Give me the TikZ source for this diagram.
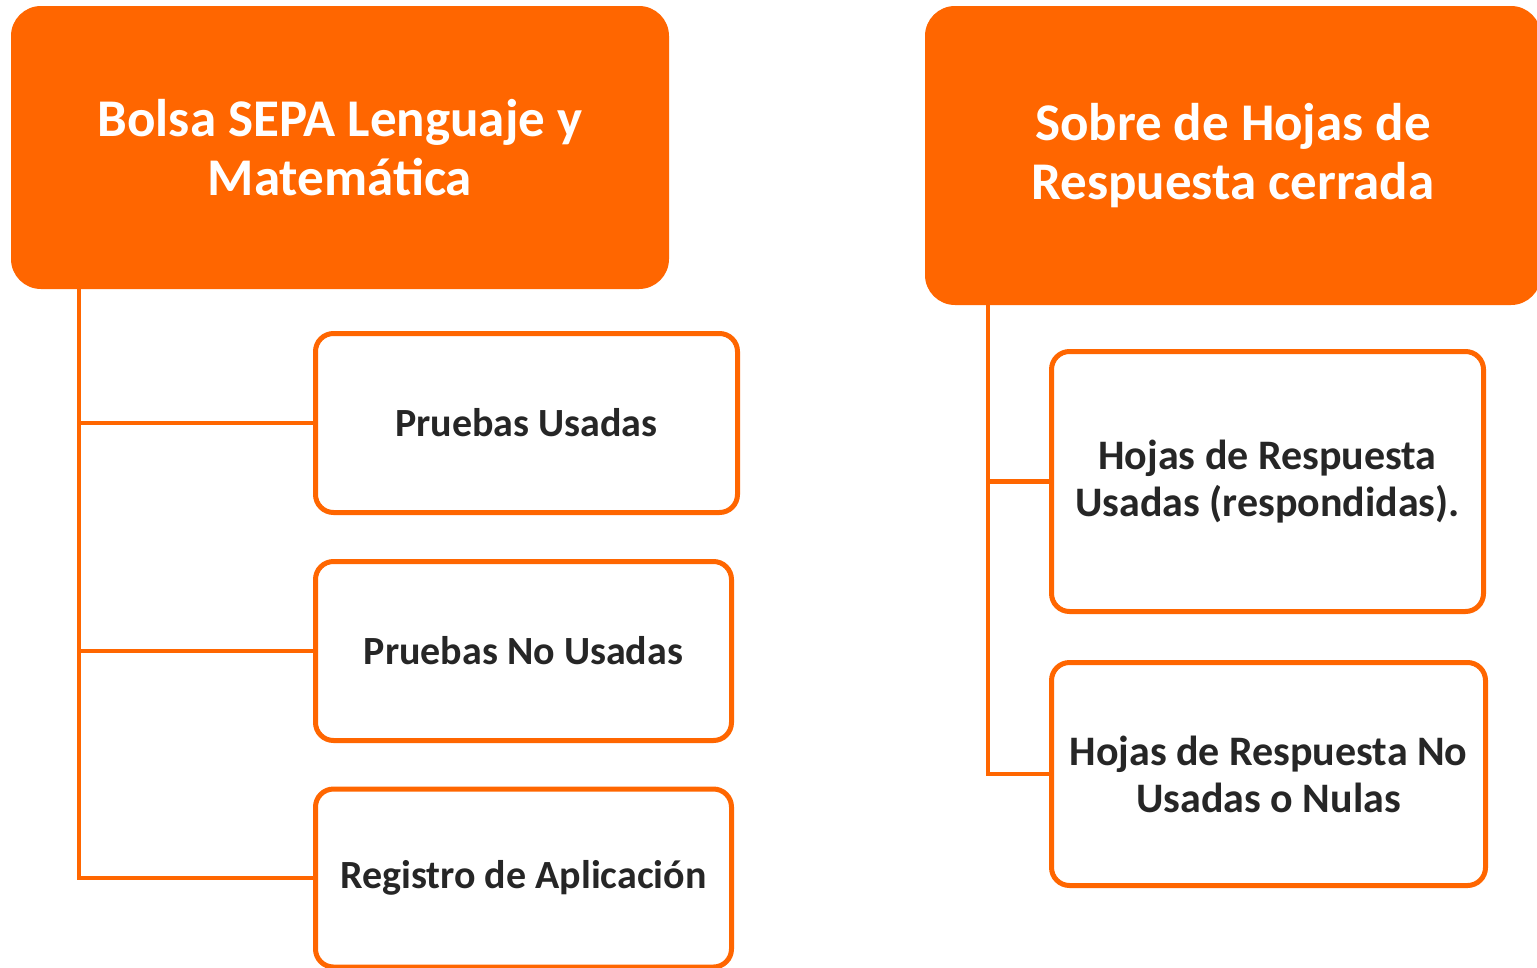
\documentclass[tikz,border=0pt]{standalone}
\usepackage{fontspec}
\setmainfont{Carlito}
\definecolor{orng}{HTML}{FF6600}
\definecolor{txt}{HTML}{262626}
\tikzset{
  hdr/.style={fill=orng, draw=none, rounded corners=30pt, text=white, align=center,
    font=\fontsize{53}{59}\selectfont\bfseries, inner sep=0pt},
  child/.style={draw=orng, line width=5pt, fill=white, rounded corners=18pt, text=txt, align=center,
    font=\fontsize{40}{46}\selectfont\bfseries, inner sep=0pt},
  childR/.style={child, font=\fontsize{42}{47}\selectfont\bfseries},
  conn/.style={draw=orng, line width=4.5pt}
}
\begin{document}
\begin{tikzpicture}[x=1pt,y=-1pt]
\useasboundingbox (0,0) rectangle (1537,967);
\fill[white] (0,0) rectangle (1537,967);
\begin{scope}
\clip (0,0) rectangle (1537,967);
\node[hdr, minimum width=658pt, minimum height=283pt] (hdrL) at (340,147.5) {Bolsa SEPA Lenguaje y\\Matemática};
\node[hdr, minimum width=616pt, minimum height=299pt] (hdrR) at (1233,155.5) {Sobre de Hojas de\\Respuesta cerrada};
\coordinate (trunkL) at (79,289);
\coordinate (trunkR) at (988,305);
\node[child, minimum width=422pt, minimum height=179pt] (p1) at (526.5,423) {Pruebas Usadas};
\node[child, minimum width=416pt, minimum height=179pt] (p2) at (523.5,651) {Pruebas No Usadas};
\node[child, minimum width=416pt, minimum height=178pt] (p3) at (523.5,878) {Registro de Aplicación};
\node[childR, minimum width=432pt, minimum height=260pt] (h1) at (1267.5,481.5) {Hojas de Respuesta\\Usadas (respondidas).};
\node[childR, minimum width=434pt, minimum height=223pt] (h2) at (1268.5,774) {Hojas de Respuesta No\\Usadas o Nulas};
\draw[conn] (trunkL) |- (p3.west);
\draw[conn] (trunkL |- p1.west) -- (p1.west);
\draw[conn] (trunkL |- p2.west) -- (p2.west);
\draw[conn] (trunkR) |- (h2.west);
\draw[conn] (trunkR |- h1.west) -- (h1.west);
\end{scope}
\end{tikzpicture}
\end{document}
